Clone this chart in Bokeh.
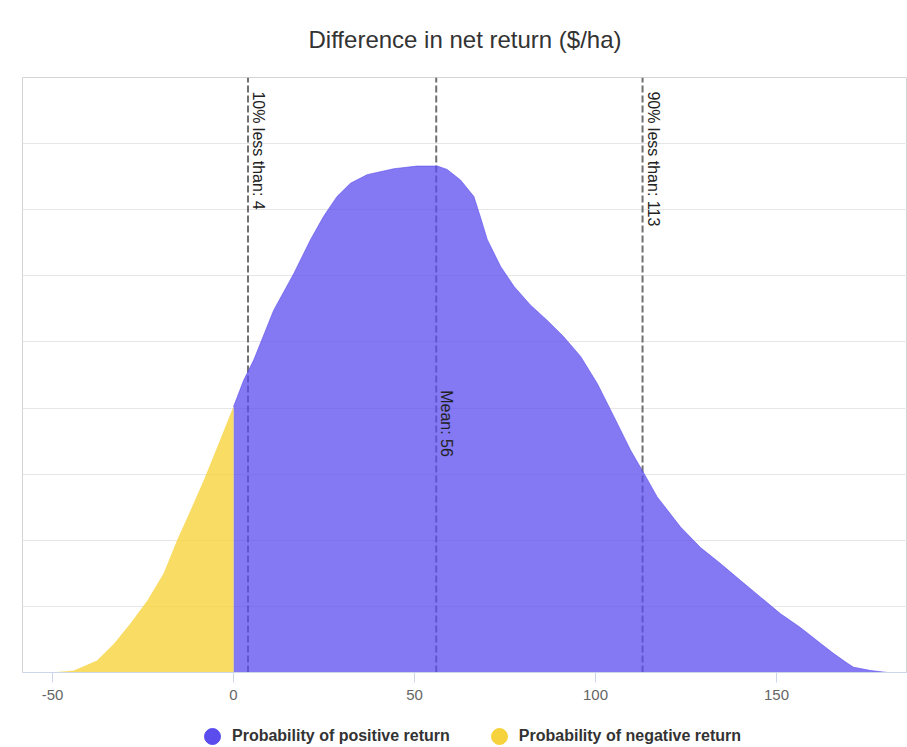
import math
from bokeh.plotting import figure
from bokeh.layouts import column
from bokeh.models import Range1d, FixedTicker, Legend, LegendItem, ColumnDataSource
from bokeh.core.properties import value
from bokeh.embed import file_html
from bokeh.resources import INLINE

# ---- data ----
neg_x = [-55, -50, -47, -44.1, -37.7, -33.1, -28.5, -23.8, -19.3, -15.6, -11.9, -8.2, -4.5, -0.4, 0]
neg_y = [0.0, 0.005, 0.015, 0.03, 0.18, 0.43, 0.74, 1.09, 1.50, 2.0, 2.45, 2.91, 3.41, 3.97, 4.02]

pos_x = [0, 2.8, 5.6, 11.1, 16.7, 21.3, 24.9, 28.6, 32.3, 36.9, 44.3, 50.7, 56.3, 59.0,
         62.7, 66.4, 68.2, 70.1, 73.8, 77.5, 82.0, 86.6, 91.2, 95.9, 100.5, 105.1,
         109.7, 113.4, 117.0, 123.5, 129.0, 134.5, 140.1, 145.6, 151.1, 156.6, 162.2,
         165.7, 169.6, 171.3, 176.0, 180.7]
pos_y = [4.02, 4.42, 4.73, 5.48, 6.04, 6.55, 6.90, 7.20, 7.40, 7.53, 7.62, 7.66, 7.66, 7.61,
         7.45, 7.20, 6.89, 6.55, 6.14, 5.84, 5.56, 5.33, 5.08, 4.78, 4.37, 3.87,
         3.36, 3.01, 2.66, 2.20, 1.89, 1.65, 1.39, 1.14, 0.89, 0.68, 0.44,
         0.29, 0.14, 0.08, 0.03, 0.0]

marker_x = [4, 56, 113]
marker_labels = ["10% less than: 4", "Mean: 56", "90% less than: 113"]

x_ticks = [-50, 0, 50, 100, 150]
x_tick_labels = ["-50", "0", "50", "100", "150"]
series_names = ["Probability of positive return", "Probability of negative return"]

PURPLE = "#5B4CEE"
YELLOW = "#F6D33C"
FONT = "Liberation Sans"

p = figure(width=907, height=710, output_backend="svg", toolbar_location=None,
           x_range=Range1d(-58.3, 186.2), y_range=Range1d(0, 9),
           min_border_left=22, min_border_right=0, min_border_top=77,
           min_border_bottom=38, title="Difference in net return ($/ha)")

p.title.align = "center"
p.title.vertical_align = "top"
p.title.text_font = FONT
p.title.text_font_size = "24px"
p.title.text_font_style = "normal"
p.title.text_color = "#333333"
p.title.standoff = 46

p.background_fill_color = "white"
p.border_fill_color = "white"
p.outline_line_color = "#d4d4d4"

p.yaxis.visible = False
p.xgrid.visible = False
p.ygrid.ticker = FixedTicker(ticks=list(range(0, 10)))
p.ygrid.grid_line_color = "#e6e6e6"

ax = p.xaxis[0]
ax.ticker = FixedTicker(ticks=x_ticks)
ax.major_label_overrides = {t: s for t, s in zip(x_ticks, x_tick_labels)}
ax.axis_line_color = "#ccd6eb"
ax.major_tick_line_color = "#ccd6eb"
ax.major_tick_out = 10
ax.major_tick_in = 0
ax.minor_tick_line_color = None
ax.major_label_text_font = FONT
ax.major_label_text_font_size = "15px"
ax.major_label_text_color = "#666666"
ax.major_label_standoff = 7

# vertical marker lines (beneath the areas)
for mx in marker_x:
    p.line(x=[mx, mx], y=[0, 9], line_color="#707070", line_width=2, line_dash="7 3")

p.varea(x=pos_x, y1=[0] * len(pos_x), y2=pos_y, fill_color=PURPLE, fill_alpha=0.75)
p.varea(x=neg_x, y1=[0] * len(neg_x), y2=neg_y, fill_color=YELLOW, fill_alpha=0.8)
p.line(x=pos_x, y=pos_y, line_color=PURPLE, line_width=1, line_alpha=0.6)

label_y = [8.79, 4.27, 8.79]
src = ColumnDataSource(dict(x=marker_x, y=label_y, t=marker_labels))
p.text(x="x", y="y", text="t", source=src, angle=-math.pi / 2, text_align="left",
       text_baseline="bottom", x_offset=2, text_font=value(FONT),
       text_font_size="16px", text_color="#222222")

# ---- legend strip below the chart ----
lg = figure(width=907, height=37, output_backend="svg", toolbar_location=None,
            x_range=Range1d(-58.3, 186.2), y_range=Range1d(0, 9),
            min_border_left=0, min_border_right=0, min_border_top=0, min_border_bottom=0)
lg.axis.visible = False
lg.grid.visible = False
lg.outline_line_color = None
lg.background_fill_color = "white"
lg.border_fill_color = "white"

pos_m = lg.scatter(x=pos_x, y=pos_y, marker="circle", size=16, fill_color=PURPLE,
                   line_color=PURPLE, visible=False)
neg_m = lg.scatter(x=neg_x, y=neg_y, marker="circle", size=16, fill_color=YELLOW,
                   line_color=YELLOW, visible=False)

legend = Legend(items=[LegendItem(label=series_names[0], renderers=[pos_m], index=0),
                       LegendItem(label=series_names[1], renderers=[neg_m], index=0)],
                orientation="horizontal", location=(170, -9),
                glyph_width=40, glyph_height=40, label_standoff=-6, spacing=29,
                padding=0, margin=0, border_line_color=None,
                background_fill_alpha=0, label_text_font=FONT,
                label_text_font_size="16px", label_text_font_style="bold",
                label_text_color="#333333")
lg.add_layout(legend, "center")

layout = column(p, lg, spacing=0)
open("out.html", "w").write(file_html(layout, INLINE))
